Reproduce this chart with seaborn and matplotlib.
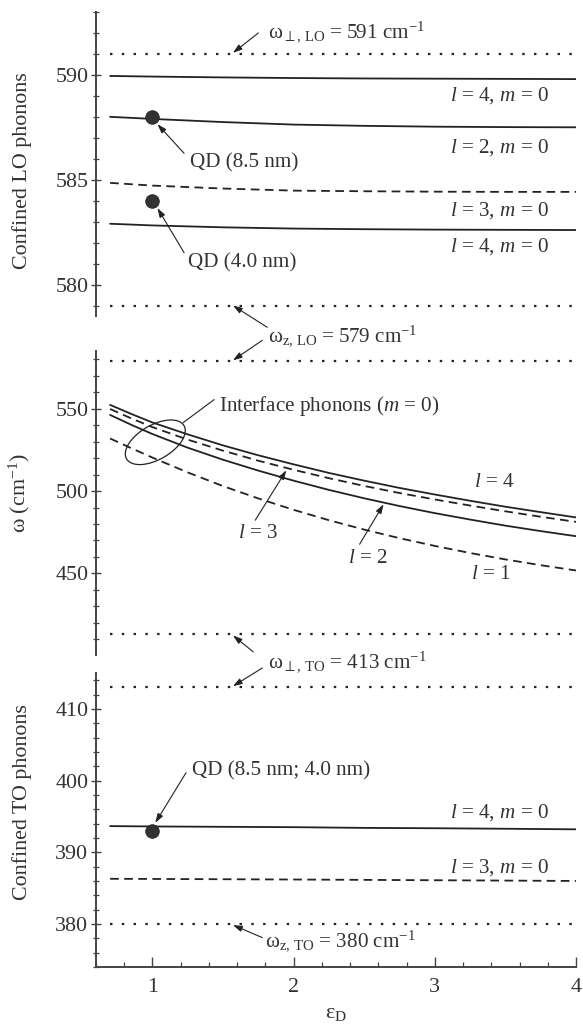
import numpy as np
import pandas as pd
import seaborn as sns
import matplotlib
matplotlib.use("Agg")
import matplotlib.pyplot as plt
from matplotlib.patches import Ellipse
from matplotlib.transforms import IdentityTransform
from matplotlib.ticker import MultipleLocator, FixedLocator

# ---- data -------------------------------------------------------------
# dielectric constant of the surrounding medium
eps_conf = [0.7, 1.0, 1.5, 2.0, 2.5, 3.0, 3.5, 4.0]
eps_if = [0.7, 0.85, 1.0, 1.25, 1.5, 1.75, 2.0, 2.25, 2.5, 2.75,
          3.0, 3.25, 3.5, 3.75, 4.0]

# confined LO phonons (cm^-1)
lo_l4_upper = [589.95, 589.92, 589.88, 589.85, 589.83, 589.82, 589.81, 589.80]
lo_l2 = [588.00, 587.90, 587.75, 587.63, 587.57, 587.53, 587.51, 587.50]
lo_l3 = [584.85, 584.72, 584.58, 584.48, 584.45, 584.43, 584.42, 584.42]
lo_l4_lower = [582.90, 582.82, 582.73, 582.67, 582.64, 582.62, 582.61, 582.60]
lo_qd_x = [1.0, 1.0]
lo_qd_y = [588.0, 584.0]

# interface phonons (m = 0)
if_l4 = [552.3, 546.8, 541.6, 534.4, 527.7, 521.7, 516.2, 511.0, 506.3,
         501.9, 497.9, 494.1, 490.5, 487.2, 484.0]
if_l3 = [549.8, 544.1, 538.8, 531.2, 524.5, 518.4, 512.9, 507.8, 503.1,
         498.8, 494.9, 491.2, 487.7, 484.4, 481.3]
if_l2 = [546.2, 540.2, 534.6, 526.3, 519.0, 512.4, 506.3, 500.7, 495.6,
         490.9, 486.6, 482.7, 479.0, 475.7, 472.6]
if_l1 = [531.9, 526.0, 520.3, 511.3, 503.0, 495.5, 488.6, 482.3, 476.6,
         471.4, 466.7, 462.4, 458.5, 455.0, 451.8]

# confined TO phonons
to_l4 = [393.65, 393.60, 393.55, 393.50, 393.40, 393.35, 393.28, 393.20]
to_l3 = [386.30, 386.28, 386.24, 386.20, 386.15, 386.10, 386.05, 386.00]
to_qd_x = [1.0]
to_qd_y = [393.0]

# bulk limits
w_perp_lo, w_z_lo = 591, 579
w_perp_to, w_z_to = 413, 380

x_ticks = [1, 2, 3, 4]
if_ticks = [450, 500, 550]

# ---- style ------------------------------------------------------------
sns.set_style("ticks")
plt.rcParams["font.family"] = ["Liberation Serif", "DejaVu Serif"]
plt.rcParams["mathtext.fontset"] = "custom"
plt.rcParams["mathtext.rm"] = "Liberation Serif"
plt.rcParams["mathtext.it"] = "Liberation Serif:italic"
plt.rcParams["mathtext.bf"] = "Liberation Serif:bold"

INK = "#222222"
TXT = "#333333"
FS = 15.2
TFS = 15.8

fig = plt.figure(figsize=(5.83, 10.30), dpi=100)
W, H = 583, 1030


def add_panel(top_px, bot_px):
    return fig.add_axes([96 / W, 1 - bot_px / H, 480 / W, (bot_px - top_px) / H])


ax_lo = add_panel(12, 316)
ax_if = add_panel(351, 655)
ax_to = add_panel(673, 967)

DOT = (0, (1.1, 4.2))
DASH = (0, (4.8, 3.0))


def line(ax, x, y, style, lw=1.3):
    df = pd.DataFrame({"x": x, "y": y})
    sns.lineplot(data=df, x="x", y="y", ax=ax, color=INK, lw=lw,
                 linestyle=style, sort=False)


def hline(ax, y):
    ax.axhline(y, xmin=(0.7 - 0.6) / 3.4, xmax=1.0, color=INK, lw=1.6,
               linestyle=DOT)


# top: confined LO
hline(ax_lo, w_perp_lo)
hline(ax_lo, w_z_lo)
line(ax_lo, eps_conf, lo_l4_upper, "-")
line(ax_lo, eps_conf, lo_l2, "-")
line(ax_lo, eps_conf, lo_l3, DASH)
line(ax_lo, eps_conf, lo_l4_lower, "-")
sns.scatterplot(x=lo_qd_x, y=lo_qd_y, ax=ax_lo, s=95, color="#333333",
                edgecolor="#222222", linewidth=0.6, zorder=5)

# middle: interface phonons
hline(ax_if, w_z_lo)
hline(ax_if, w_perp_to)
line(ax_if, eps_if, if_l4, "-")
line(ax_if, eps_if, if_l3, DASH)
line(ax_if, eps_if, if_l2, "-")
line(ax_if, eps_if, if_l1, DASH)

# bottom: confined TO
hline(ax_to, w_perp_to)
hline(ax_to, w_z_to)
line(ax_to, eps_conf, to_l4, "-")
line(ax_to, eps_conf, to_l3, DASH)
sns.scatterplot(x=to_qd_x, y=to_qd_y, ax=ax_to, s=95, color="#333333",
                edgecolor="#222222", linewidth=0.6, zorder=5)

# axes cosmetics
limits = {ax_lo: (578.5, 593.0), ax_if: (400.5, 585.0), ax_to: (374.0, 415.0)}
majors = {ax_lo: (5, 1), ax_if: (50, 10), ax_to: (10, 2)}
for ax in (ax_lo, ax_if, ax_to):
    ax.set_xlim(0.6, 4.0)
    ax.set_ylim(*limits[ax])
    ax.yaxis.set_major_locator(MultipleLocator(majors[ax][0]))
    ax.yaxis.set_minor_locator(MultipleLocator(majors[ax][1]))
    for s in ("top", "right"):
        ax.spines[s].set_visible(False)
    ax.spines["left"].set_linewidth(1.4)
    ax.spines["left"].set_color("#444444")
    ax.tick_params(axis="y", which="major", direction="inout", length=7,
                   width=1.0, color="#444444", labelsize=TFS, labelcolor=TXT,
                   pad=2)
    ax.tick_params(axis="y", which="minor", direction="inout", length=5,
                   width=0.9, color="#444444")
    ax.set_xlabel("")
    ax.set_ylabel("")
ax_if.yaxis.set_major_locator(FixedLocator(if_ticks))

for ax in (ax_lo, ax_if):
    ax.spines["bottom"].set_visible(False)
    ax.tick_params(axis="x", which="both", bottom=False, labelbottom=False)

ax_to.spines["bottom"].set_linewidth(1.4)
ax_to.spines["bottom"].set_color("#444444")
ax_to.set_xticks(x_ticks)
ax_to.xaxis.set_minor_locator(MultipleLocator(0.2))
ax_to.tick_params(axis="x", which="major", direction="in", length=7,
                  width=1.0, color="#444444", labelsize=TFS, labelcolor=TXT,
                  pad=8)
ax_to.tick_params(axis="x", which="minor", direction="in", length=3.5,
                  width=0.9, color="#444444")

ax_lo.set_ylabel("Confined LO phonons", fontsize=TFS, color=TXT)
ax_lo.yaxis.set_label_coords(-0.133, 0.477)
ax_if.set_ylabel(r"$\mathrm{\omega}$ (cm$^{-1}$)", fontsize=TFS, color=TXT)
ax_if.yaxis.set_label_coords(-0.133, 0.533)
ax_to.set_ylabel("Confined TO phonons", fontsize=TFS, color=TXT)
ax_to.yaxis.set_label_coords(-0.133, 0.561)
ax_to.set_xlabel(r"$\mathrm{\varepsilon}_\mathrm{D}$", fontsize=TFS, color=TXT,
                 labelpad=5)

# ---- annotations ------------------------------------------------------
ARW = dict(arrowstyle="-|>,head_length=0.55,head_width=0.18", lw=0.8,
           color=INK, shrinkA=0, shrinkB=0)


def arrow(ax, tail, head, tail_ax=None):
    src = (tail_ax or ax).transData
    ax.annotate("", xy=head, xycoords=ax.transData, xytext=tail,
                textcoords=src, arrowprops=ARW, annotation_clip=False)


def label(ax, x, y, s, ha="left"):
    ax.text(x, y, s, fontsize=FS, color=TXT, ha=ha, va="center",
            clip_on=False)


# top panel
label(ax_lo, 1.82, 592.0, r"$\mathrm{\omega}_{\perp,\,\mathrm{LO}}$ = 591 cm$^{-1}$")
arrow(ax_lo, (1.75, 592.0), (1.57, 591.05))
for y, s in [(589.0, r"$l$ = 4, $m$ = 0"), (586.54, r"$l$ = 2, $m$ = 0"),
             (583.55, r"$l$ = 3, $m$ = 0"), (581.8, r"$l$ = 4, $m$ = 0")]:
    label(ax_lo, 3.81, y, s, ha="right")
label(ax_lo, 1.266, 585.8, "QD (8.5 nm)")
arrow(ax_lo, (1.224, 586.26), (1.035, 587.65))
label(ax_lo, 1.252, 581.04, "QD (4.0 nm)")
arrow(ax_lo, (1.224, 581.52), (1.035, 583.65))

# between top and middle
label(ax_lo, 1.82, 577.54, r"$\mathrm{\omega}_{\mathrm{z},\,\mathrm{LO}}$ = 579 cm$^{-1}$")
arrow(ax_lo, (1.813, 577.96), (1.57, 579.0))
arrow(ax_if, (1.778, 591.5), (1.57, 579.3))

# middle panel
label(ax_if, 1.473, 551.8, r"Interface phonons ($m$ = 0)")
ax_if.plot([1.437, 1.217], [555.5, 541.5], color=INK, lw=0.8)
fig.canvas.draw()
cx, cy = ax_if.transData.transform((1.02, 529.6))
ax_if.add_patch(Ellipse((cx, cy), 66.4, 34.4, angle=30,
                        transform=IdentityTransform(), fill=False,
                        edgecolor=INK, lw=0.9))
label(ax_if, 1.749, 474.4, r"$l$ = 3", ha="center")
arrow(ax_if, (1.728, 482.3), (1.948, 512.6))
label(ax_if, 2.523, 459.1, r"$l$ = 2", ha="center")
arrow(ax_if, (2.467, 467.7), (2.637, 492.0))
label(ax_if, 3.418, 504.9, r"$l$ = 4", ha="center")
label(ax_if, 3.397, 449.4, r"$l$ = 1", ha="center")

# between middle and bottom
label(ax_to, 1.82, 416.4, r"$\mathrm{\omega}_{\perp,\,\mathrm{TO}}$ = 413 cm$^{-1}$")
arrow(ax_if, (1.714, 402.4), (1.57, 412.4))
arrow(ax_to, (1.778, 415.7), (1.57, 413.15))

# bottom panel
label(ax_to, 1.28, 401.4, "QD (8.5 nm; 4.0 nm)")
arrow(ax_to, (1.238, 401.1), (1.02, 394.1))
label(ax_to, 3.81, 395.6, r"$l$ = 4, $m$ = 0", ha="right")
label(ax_to, 3.81, 387.9, r"$l$ = 3, $m$ = 0", ha="right")
label(ax_to, 1.80, 377.5, r"$\mathrm{\omega}_{\mathrm{z},\,\mathrm{TO}}$ = 380 cm$^{-1}$")
arrow(ax_to, (1.778, 378.1), (1.57, 379.85))

fig.savefig("out.png", dpi=100)
